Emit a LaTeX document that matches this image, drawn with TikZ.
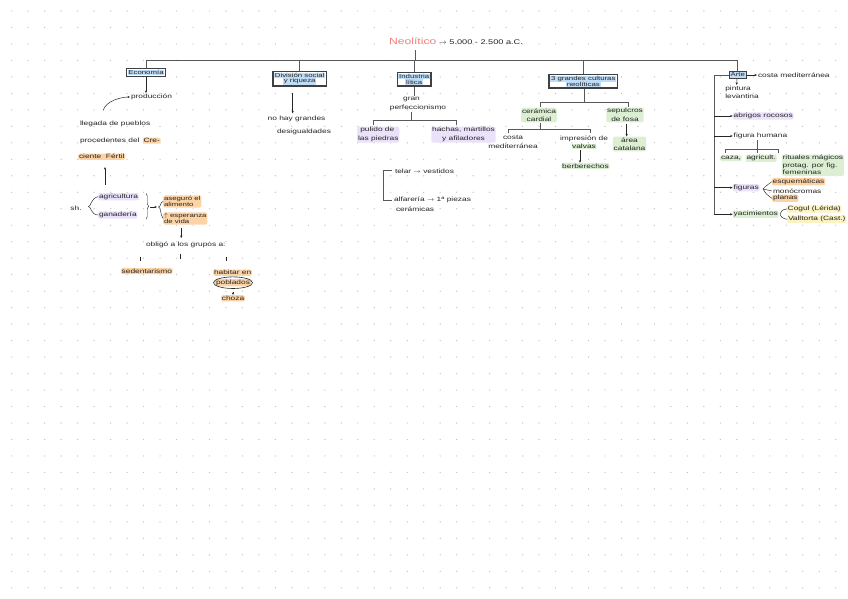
\documentclass[tikz,border=0pt]{standalone}
\usepackage{fontspec}
\setmainfont[FakeStretch=1.35]{Liberation Sans}
\usetikzlibrary{arrows.meta,calc,decorations.pathreplacing}
\definecolor{hlblue}{HTML}{BFDDF7}
\definecolor{hllila}{HTML}{EAE2FA}
\definecolor{hlorange}{HTML}{FCD3A5}
\definecolor{hlgreen}{HTML}{DCEFD3}
\definecolor{hlyellow}{HTML}{FCF3C2}
\definecolor{titlered}{HTML}{F27F7F}
\definecolor{dotgray}{HTML}{C4C4C4}
\definecolor{ink}{HTML}{262626}
\newcommand\hlb[1]{{\setlength\fboxsep{0.7pt}\colorbox{hlblue}{#1}}}
\newcommand\hlg[1]{{\setlength\fboxsep{0.5pt}\colorbox{hlgreen}{#1}}}
\newcommand\ra{$\rightarrow$}
\begin{document}
\begin{tikzpicture}[x=1pt,y=-1pt,
  every node/.style={font=\fontsize{6.2}{8.5}\selectfont, inner sep=0.8pt, text=ink},
  t/.style={anchor=west},
  hl/.style={fill=#1, rounded corners=2pt},
  box/.style={draw=black!75, line width=1.4pt, fill=white, inner sep=1.2pt, align=center, font=\fontsize{5.8}{7}\selectfont},
  ln/.style={draw=black!65, line width=0.7pt},
  thin/.style={draw=ink, line width=0.45pt},
  arr/.style={draw=ink, line width=0.5pt, -{Stealth[length=2.6pt,width=2.2pt]}},
]
\useasboundingbox (0,0) rectangle (848,599);
\fill[white] (0,0) rectangle (848,599);
\foreach \i in {0,...,50}{\foreach \j in {0,...,35}{\fill[dotgray] (11.7+\i*16.48, 11+\j*16.48) circle (0.7);}}

% title
\node (title) at (456,41) {\fontsize{9}{10}\selectfont\textcolor{titlered}{Neolítico}\fontsize{6.8}{8}\selectfont\ \ra\ 5.000 - 2.500 a.C.};
\coordinate (top) at (0,60);
\coordinate (tx) at (415,60);
\draw[ln, shorten <=5pt] (title.south -| tx) -- (tx);

% boxes
\node[box] (eco) at (146,72.5) {\hlb{Economía}};
\node[box] (div) at (299.7,78.7) {\hlb{División social}\\[-1.5pt]\hlb{y riqueza}};
\node[box] (ind) at (414.2,79.2) {\hlb{Industria}\\[-1.5pt]\hlb{lítica}};
\node[box] (tres) at (583.3,81.2) {\hlb{3 grandes culturas}\\[-1.5pt]\hlb{neolíticas}};
\node[box, inner sep=0.5pt] (arte) at (737.8,75) {\hlb{Arte}};

\draw[ln] (eco.north) |- (arte.north |- top) -- (arte.north);
\draw[ln] (div.north) -- (div.north |- top);
\draw[ln] (ind.north) -- (ind.north |- top);
\draw[ln] (tres.north) -- (tres.north |- top);

% Economia
\node[t] (prod) at (130,97) {producción};
\draw[arr] (eco.south) -- (eco.south |- prod.north);
\node[t] (lleg1) at (79,124.3) {llegada de pueblos};
\node[t] (lleg2) at (79,140.7) {procedentes del};
\node[t,hl=hlorange] (cre) at ([xshift=2pt]lleg2.east) {Cre-};
\node[t,hl=hlorange] (cf) at (78,156.7) {ciente\ \ Fértil};
\draw[arr] ([xshift=-12pt,yshift=10pt]lleg1.north) .. controls +(3,-10) and +(-8,0) .. (prod.west);

\node (sh) at (76,208.5) {sh.};
\node[t,hl=hllila] (agr) at (98,196.7) {agricultura};
\node[t,hl=hllila] (gan) at (98,215) {ganadería};
\draw[arr] ($(agr.north west)+(7,-8)$) -- ($(cf.south west)+(27,7)$);
\coordinate (bl) at (88.5,206.5);
\draw[thin] (agr.west) .. controls (91,198) and (91,206.5) .. (bl) .. controls (91,206.5) and (91,215) .. (gan.west);
\draw[thin, decorate, decoration={brace, amplitude=2.5pt}] (146,193.5) -- (146,219);
\coordinate (br1) at (150,207);
\coordinate (br2) at (157,207);
\draw[arr] (br1) -- (br2);
\node[t,hl=hlorange,align=left,font=\fontsize{5.8}{6.2}\selectfont] (ase) at (163,201.5) {aseguró el\\alimento};
\node[t,hl=hlorange,align=left,font=\fontsize{5.8}{6.2}\selectfont] (esp) at (163,218.5) {$\uparrow$ esperanza\\de vida};
\coordinate (bl2) at (158.5,207);
\draw[thin] (ase.west) .. controls (160,202) and (161,207) .. (bl2) .. controls (161,207) and (160,214) .. (esp.west);
\node[t] (obl) at (145,245) {obligó a los grupos a:};
\draw[arr] ([xshift=-4pt,yshift=-3pt]esp.south) -- ([xshift=-4pt,yshift=3pt]esp.south |- obl.north);
\draw[thin] (140,256.5) -- (140,260.5);
\draw[thin] (180.7,254) -- (180.7,258.5);
\draw[thin] (226,256.5) -- (226,260.5);
\node[t,hl=hlorange] (sed) at (120.7,271) {sedentarismo};
\node[t,hl=hlorange] (hab) at (213,272.7) {habitar en};
\node[hl=hlorange] (pob) at (233,282.7) {poblados};
\draw[ink, line width=0.6pt] (pob.center) ellipse (19.5 and 5.8);
\node[hl=hlorange] (choza) at (233,298.3) {choza};
\draw[arr] ([yshift=-5.5pt]pob.south) -- (choza.north);

% Division social
\node[t] (nohay) at (266.7,119.3) {no hay grandes};
\node[t] (desig) at (276,132.3) {desigualdades};
\draw[arr] ([xshift=-7pt,yshift=-6pt]div.south) -- ([xshift=-7pt,yshift=2pt]div.south |- nohay.north);

% Industria litica
\node (gran) at (411.5,99) {gran};
\node (perf) at (418,107.7) {perfeccionismo};
\draw[ln] (ind.south) -- (ind.south |- gran.north);
\coordinate (ij) at (411.7,120);
\coordinate (il) at (373.3,125);
\coordinate (ir) at (456.7,125);
\draw[ln] (perf.south -| ij) -- (ij);
\draw[ln] (il) |- (ir |- ij) -- (ir);
\node[anchor=north west,hl=hllila,align=left] (pul) at (357,126.5) {\ pulido de\\las piedras};
\node[anchor=north,hl=hllila,align=center] (hach) at (463.5,126.5) {hachas, martillos\\y afiladores};

\coordinate (tb1) at (391.7,170);
\coordinate (tb2) at (391.7,200);
\coordinate (tbx) at (383.3,185);
\draw[ln] (tb1) -| (tbx) |- (tb2);
\node[t] (telar) at (394,171) {telar \ra\ vestidos};
\node[t] (alf) at (393,200) {alfarería \ra\ 1ª piezas};
\node[t] (ceram) at (395,209.3) {cerámicas};

% 3 grandes culturas
\coordinate (tj) at (584.3,102.7);
\coordinate (tl) at (540,106.7);
\coordinate (tr) at (628.3,106.7);
\draw[ln] (tres.south -| tj) -- (tj);
\draw[ln] (tl) |- (tr |- tj) -- (tr);
\node[anchor=north,hl=hlgreen,align=center] (cer) at (539,107.5) {cerámica\\cardial};
\node[anchor=north,hl=hlgreen,align=center] (sep) at (625,107.5) {sepulcros\\de fosa};
\coordinate (cj) at (540,129.3);
\coordinate (cl) at (508.3,133.3);
\coordinate (cr) at (590,133.3);
\draw[ln] (cer.south -| cj) -- (cj);
\draw[ln] (cl) |- (cr |- cj) -- (cr);
\node[anchor=north,align=center] (costa) at (513,134.8) {costa\\mediterránea};
\node[anchor=north,align=center] (imp) at (584,134.8) {impresión de\\\hlg{valvas}};
\node[hl=hlgreen] (berb) at (585.5,166) {berberechos};
\draw[arr] ([xshift=-4pt]imp.south) -- ([xshift=-5.5pt]berb.north);
\node[anchor=north,hl=hlgreen,align=center] (area) at (629.5,136.5) {área\\catalana};
\draw[arr] ([xshift=1.7pt,yshift=-1pt]sep.south) -- ([xshift=-2.8pt]area.north);

% Arte
\node[t] (costa2) at (757,75) {costa mediterránea};
\draw[arr] (arte.east) -- (costa2.west);
\node[anchor=north,align=left] (pint) at (742,85) {pintura\\levantina};
\draw[arr] ([xshift=-1pt]arte.south) -- ([xshift=-5.3pt]pint.north);
\node[t,hl=hllila] (abr) at (732.7,116) {abrigos rocosos};
\node[t] (fig) at (732.7,136) {figura humana};
\node[t,hl=hllila] (figs) at (732.7,187.7) {figuras};
\node[t,hl=hlgreen] (yac) at (732.7,214.3) {yacimientos};
\coordinate (bx) at (714,0);
\draw[ln] (arte.west) -| (bx |- yac.west);
\foreach \n in {abr,fig,figs,yac}{\draw[arr] (bx |- \n.west) -- (\n.west);}

\coordinate (fj) at (757.3,149.3);
\coordinate (fl) at (725,152.7);
\coordinate (fr) at (778.3,152.7);
\draw[ln] (fj |- fig.south) -- (fj |- fr);
\draw[ln] (fl) |- (fr |- fj) -- (fr);
\node[t,hl=hlgreen] (caza) at (720,158.3) {caza,};
\node[t,hl=hlgreen] (agr2) at (745.5,158.3) {agricult.};
\node[anchor=north west,hl=hlgreen,align=left,font=\fontsize{6.2}{7.5}\selectfont] (rit) at (781.7,154.4) {rituales mágicos\\protag. por fig.\\femeninas};

\node[t,hl=hlorange] (esq) at (771.7,181.7) {esquemáticas};
\node[t] (mono) at (772,191) {monócromas};
\node[t,hl=hlorange] (plan) at (772,198.3) {planas};
\coordinate (fp) at (763,189);
\draw[thin] (fp) .. controls (766,186) .. (esq.west);
\draw[thin] (fp) .. controls (767,190) .. (mono.west);
\draw[thin] (fp) .. controls (766,194) .. (plan.west);

\node[t,hl=hlyellow] (cog) at (786.7,209) {Cogul (Lérida)};
\node[t,hl=hlyellow] (val) at (787,219.3) {Valltorta (Cast.)};
\coordinate (yp) at (780,214.3);
\draw[thin] (yp) .. controls (782,210) .. (cog.west);
\draw[thin] (yp) .. controls (782,218) .. (val.west);
\end{tikzpicture}
\end{document}
